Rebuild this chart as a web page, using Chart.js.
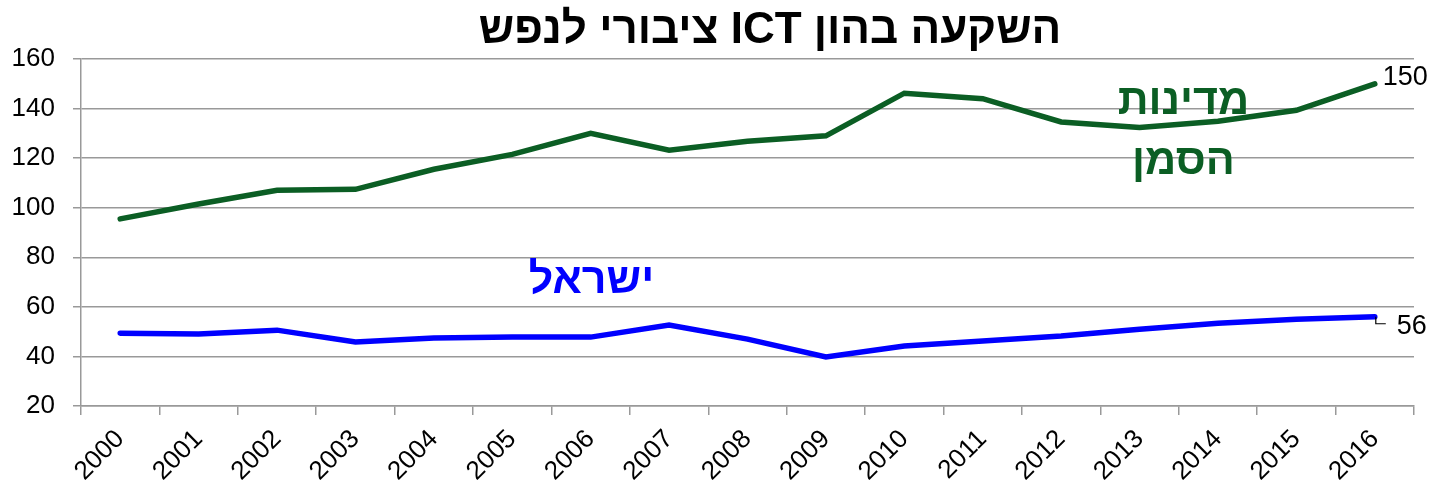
<!DOCTYPE html>
<html>
<head>
<meta charset="utf-8">
<script src="https://cdn.jsdelivr.net/npm/chart.js@4/dist/chart.umd.min.js"></script>
<style>
  html, body { margin: 0; padding: 0; background: #fff; }
  #wrap { width: 1431px; height: 485px; }
</style>
</head>
<body>
<div id="wrap"><canvas id="chart"></canvas></div>
<script>
const years = ["2000", "2001", "2002", "2003", "2004", "2005", "2006", "2007", "2008",
  "2009", "2010", "2011", "2012", "2013", "2014", "2015", "2016"];
// מדינות הסמן
const benchmark = [95.5, 101.5, 107, 107.4, 115.5, 121.5, 130, 123.2, 126.8, 129,
  146.2, 144, 134.6, 132.4, 134.9, 139.3, 150];
// ישראל
const israel = [49.4, 49, 50.6, 45.8, 47.4, 47.8, 47.8, 52.7, 47, 39.8,
  44.2, 46.2, 48.2, 51, 53.4, 55, 56];
const yTicks = [20, 40, 60, 80, 100, 120, 140, 160];

const green = "#0b5e24";
const blue = "#0000ff";
const font = "'Liberation Sans', Arial, sans-serif";
const title = "השקעה בהון ICT ציבורי לנפש";

// כותרת וטקסטים על הגרף
const labelsPlugin = {
  id: "labels",
  afterDatasetsDraw(chart) {
    const ctx = chart.ctx;
    const x = chart.scales.x, y = chart.scales.y;
    ctx.save();
    ctx.direction = "rtl";
    ctx.textAlign = "center";
    ctx.textBaseline = "middle";
    ctx.fillStyle = "#000";
    ctx.font = "bold 44px " + font;
    ctx.fillText(title, 770, 31);

    ctx.font = "bold 43px " + font;
    ctx.fillStyle = green;
    ctx.fillText("מדינות", x.getPixelForValue(13.56), y.getPixelForValue(142.4));
    ctx.fillText("הסמן", x.getPixelForValue(13.56), y.getPixelForValue(118.2));
    ctx.fillStyle = blue;
    ctx.fillText("ישראל", x.getPixelForValue(6.01), y.getPixelForValue(70.2));

    ctx.direction = "ltr";
    const last = years.length - 1;
    ctx.font = "27px " + font;
    ctx.fillStyle = "#000";
    ctx.textAlign = "left";
    ctx.fillText(benchmark[last], x.getPixelForValue(last) + 8, y.getPixelForValue(152.6));
    ctx.fillText(israel[last], x.getPixelForValue(last) + 22, y.getPixelForValue(52));
    // קו מוביל קטן
    const px = x.getPixelForValue(last), py = y.getPixelForValue(israel[last]);
    ctx.strokeStyle = "#000";
    ctx.lineWidth = 1.2;
    ctx.beginPath();
    ctx.moveTo(px + 1, py);
    ctx.lineTo(px + 1, py + 7);
    ctx.lineTo(px + 11, py + 7);
    ctx.stroke();
    ctx.restore();
  }
};

new Chart(document.getElementById("chart"), {
  type: "line",
  data: {
    labels: years,
    datasets: [
      { label: "מדינות הסמן", data: benchmark, borderColor: green, borderWidth: 5.5,
        pointRadius: 0, tension: 0, borderCapStyle: "round" },
      { label: "ישראל", data: israel, borderColor: blue, borderWidth: 5.5,
        pointRadius: 0, tension: 0, borderCapStyle: "round" }
    ]
  },
  options: {
    responsive: true,
    maintainAspectRatio: false,
    animation: false,
    layout: { padding: { left: 0, right: 17, top: 59, bottom: 0 } },
    plugins: {
      legend: { display: false },
      tooltip: { enabled: false },
      title: { display: false }
    },
    scales: {
      x: {
        offset: true,
        afterFit(scale) { scale.height = 79; },
        grid: { display: true, drawOnChartArea: false, color: "#999", lineWidth: 1.5, tickLength: 9, offset: true },
        border: { color: "#999", width: 1.5 },
        ticks: { color: "#000", font: { family: font, size: 26 }, minRotation: 45, maxRotation: 45, padding: 9 }
      },
      y: {
        min: 20, max: 160,
        afterFit(scale) { scale.width = 81; },
        afterBuildTicks(scale) { scale.ticks = yTicks.map(v => ({ value: v })); },
        grid: { color: "#999", lineWidth: 1.5, tickLength: 8 },
        border: { color: "#999", width: 1.5 },
        ticks: { color: "#000", font: { family: font, size: 26 }, padding: 18 }
      }
    }
  },
  plugins: [labelsPlugin]
});
</script>
</body>
</html>
